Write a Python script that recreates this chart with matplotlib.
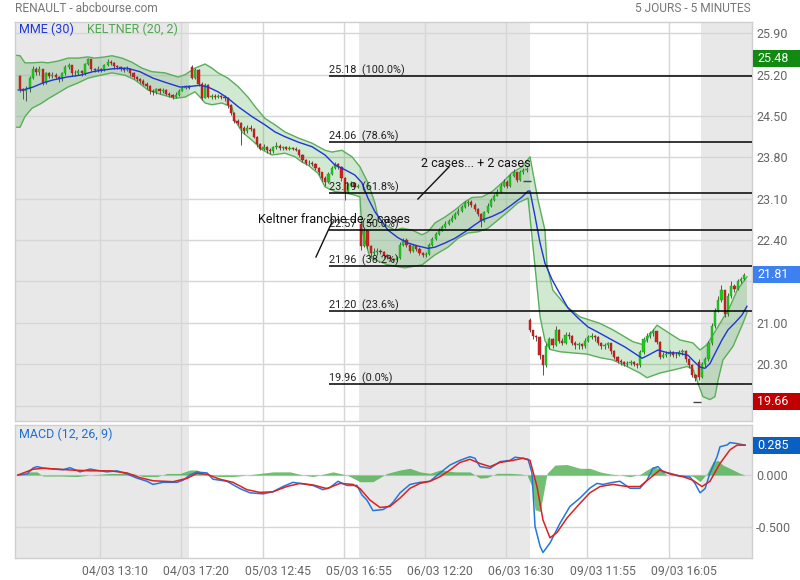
import matplotlib
matplotlib.use('Agg')
import matplotlib.pyplot as plt
import matplotlib.transforms as mtransforms
from matplotlib.patches import Rectangle
import numpy as np

plt.rcParams['font.family'] = ['Roboto', 'DejaVu Sans']

# ---------------- DATA (5-minute bars grouped by 2) ----------------
closes = [
    24.95, 24.92, 24.95, 25.15, 25.30, 25.25, 25.30, 25.06, 25.22, 25.18,
    25.20, 25.16, 25.12, 25.22, 25.33, 25.36, 25.22, 25.22, 25.26, 25.22,
    25.38, 25.46, 25.30, 25.28, 25.30, 25.28, 25.36, 25.42, 25.40, 25.34,
    25.33, 25.30, 25.28, 25.30, 25.22, 25.16, 25.13, 25.10, 25.05, 25.00,
    24.92, 24.90, 24.95, 24.92, 24.94, 24.88, 24.86, 24.82, 24.86, 24.93,
    24.98, 25.00, 24.98,
    25.15, 25.28, 25.05, 24.80, 25.02, 24.82, 24.84, 24.82, 24.84, 24.82,
    24.80, 24.68, 24.55, 24.42, 24.38, 24.30, 24.25, 24.30, 24.28, 24.15,
    24.02, 23.95, 23.98, 23.92, 23.90, 23.98, 24.00, 23.96, 23.97, 23.95,
    23.96, 23.95, 23.93, 23.84, 23.75, 23.70, 23.71, 23.69, 23.62, 23.55,
    23.45, 23.38, 23.52, 23.62, 23.68, 23.64, 23.45, 23.22, 23.32, 23.36,
    23.30, 23.32,
    22.30, 22.55, 22.30, 22.18, 22.20, 22.22, 22.20, 22.14, 22.12, 22.08,
    22.06, 22.10, 22.32, 22.40, 22.32, 22.22, 22.30, 22.25, 22.18, 22.15,
    22.17, 22.32, 22.42, 22.50, 22.56, 22.62, 22.68, 22.72, 22.78, 22.84,
    22.90, 22.96, 23.02, 23.05, 23.00, 22.93, 22.84, 22.72, 22.88, 22.98,
    23.08, 23.15, 23.22, 23.32, 23.38, 23.32, 23.48, 23.55, 23.42, 23.55,
    23.58, 23.60,
    20.88, 20.78, 20.76, 20.45, 20.28, 20.60, 20.72, 20.62, 20.88, 20.70,
    20.66, 20.80, 20.78, 20.65, 20.62, 20.64, 20.60, 20.70, 20.76, 20.78,
    20.76, 20.66, 20.60, 20.62, 20.65, 20.52, 20.42, 20.36, 20.33, 20.30,
    20.32, 20.34, 20.30, 20.28, 20.50, 20.72, 20.78, 20.82, 20.86, 20.68,
    20.42, 20.46, 20.48, 20.50, 20.46, 20.45, 20.50, 20.52, 20.38, 20.28,
    20.12, 20.06,
    20.08, 20.30, 20.38, 20.65, 20.95, 21.20, 21.38, 21.55, 21.15, 21.45,
    21.62, 21.58, 21.70, 21.74, 21.81,
]
highs = [
    25.20, 24.97, 25.00, 25.18, 25.35, 25.33, 25.34, 25.30, 25.25, 25.24,
    25.25, 25.22, 25.18, 25.25, 25.36, 25.40, 25.37, 25.28, 25.30, 25.28,
    25.40, 25.48, 25.46, 25.32, 25.34, 25.32, 25.38, 25.46, 25.45, 25.42,
    25.37, 25.35, 25.33, 25.34, 25.31, 25.24, 25.18, 25.15, 25.12, 25.07,
    25.02, 24.96, 24.98, 24.97, 24.98, 24.95, 24.91, 24.88, 24.90, 24.95,
    25.01, 25.03, 25.02,
    25.36, 25.31, 25.30, 25.08, 25.06, 25.04, 24.88, 24.87, 24.87, 24.86,
    24.85, 24.82, 24.70, 24.57, 24.45, 24.40, 24.33, 24.34, 24.35, 24.30,
    24.17, 24.04, 24.02, 24.00, 23.96, 24.00, 24.06, 24.02, 24.00, 23.99,
    24.00, 23.98, 23.97, 23.95, 23.86, 23.77, 23.75, 23.74, 23.71, 23.64,
    23.56, 23.48, 23.55, 23.66, 23.72, 23.70, 23.66, 23.47, 23.36, 23.40,
    23.38, 23.35,
    22.72, 22.60, 22.58, 22.32, 22.26, 22.27, 22.25, 22.22, 22.17, 22.14,
    22.10, 22.13, 22.36, 22.44, 22.43, 22.34, 22.33, 22.32, 22.28, 22.20,
    22.20, 22.35, 22.46, 22.53, 22.60, 22.66, 22.72, 22.76, 22.82, 22.88,
    22.95, 23.00, 23.06, 23.08, 23.07, 23.02, 22.95, 22.86, 22.90, 23.02,
    23.12, 23.18, 23.26, 23.36, 23.44, 23.42, 23.52, 23.60, 23.56, 23.58,
    23.62, 23.63,
    21.08, 20.85, 20.80, 20.78, 20.46, 20.65, 20.76, 20.75, 20.94, 20.90,
    20.74, 20.84, 20.84, 20.80, 20.70, 20.68, 20.66, 20.74, 20.80, 20.82,
    20.80, 20.78, 20.68, 20.66, 20.68, 20.66, 20.54, 20.44, 20.38, 20.35,
    20.36, 20.37, 20.36, 20.32, 20.54, 20.76, 20.82, 20.86, 20.90, 20.86,
    20.70, 20.50, 20.52, 20.54, 20.52, 20.50, 20.54, 20.56, 20.54, 20.40,
    20.30, 20.14,
    20.38, 20.34, 20.42, 20.70, 21.00, 21.25, 21.45, 21.64, 21.55, 21.50,
    21.70, 21.66, 21.74, 21.78, 21.85,
]
lows = [
    24.90, 24.78, 24.75, 24.90, 25.12, 25.20, 25.20, 25.02, 25.04, 25.14,
    25.15, 25.12, 25.08, 25.10, 25.20, 25.30, 25.18, 25.18, 25.20, 25.18,
    25.20, 25.36, 25.27, 25.24, 25.25, 25.24, 25.27, 25.34, 25.36, 25.30,
    25.29, 25.26, 25.24, 25.26, 25.18, 25.13, 25.09, 25.06, 25.02, 24.96,
    24.88, 24.86, 24.88, 24.88, 24.89, 24.85, 24.82, 24.79, 24.80, 24.84,
    24.92, 24.96, 24.95,
    25.12, 25.12, 25.00, 24.77, 24.80, 24.80, 24.78, 24.79, 24.80, 24.79,
    24.76, 24.64, 24.52, 24.38, 24.34, 24.01, 24.20, 24.22, 24.24, 24.12,
    23.98, 23.92, 23.93, 23.88, 23.86, 23.88, 23.94, 23.92, 23.93, 23.92,
    23.93, 23.92, 23.90, 23.80, 23.72, 23.67, 23.67, 23.66, 23.58, 23.50,
    23.40, 23.32, 23.36, 23.50, 23.60, 23.60, 23.40, 23.08, 23.20, 23.30,
    23.27, 23.28,
    22.24, 22.28, 22.25, 22.12, 22.14, 22.14, 22.16, 22.10, 22.08, 22.05,
    22.03, 22.04, 22.08, 22.30, 22.28, 22.18, 22.20, 22.22, 22.15, 22.12,
    22.12, 22.15, 22.30, 22.40, 22.48, 22.55, 22.60, 22.66, 22.70, 22.76,
    22.82, 22.88, 22.94, 22.98, 22.96, 22.90, 22.80, 22.62, 22.70, 22.86,
    22.96, 23.06, 23.14, 23.20, 23.30, 23.28, 23.30, 23.46, 23.38, 23.40,
    23.52, 23.56,
    20.85, 20.72, 20.70, 20.38, 20.12, 20.25, 20.55, 20.58, 20.60, 20.66,
    20.62, 20.64, 20.72, 20.62, 20.56, 20.56, 20.56, 20.58, 20.68, 20.72,
    20.70, 20.62, 20.56, 20.56, 20.58, 20.48, 20.38, 20.32, 20.28, 20.27,
    20.27, 20.29, 20.27, 20.24, 20.26, 20.48, 20.68, 20.74, 20.78, 20.64,
    20.38, 20.40, 20.42, 20.44, 20.42, 20.41, 20.44, 20.46, 20.34, 20.24,
    20.08, 20.02,
    20.04, 20.06, 20.26, 20.36, 20.62, 20.92, 21.18, 21.35, 21.10, 21.12,
    21.42, 21.52, 21.56, 21.68, 21.72,
]
# session opening gaps: candle index and open price
gap_idx = [0, 53, 105, 157, 209]
gap_open = [25.18, 25.33, 22.68, 21.05, 20.34]
# isolated ticks (bar index, price)
dash_bar = [312.7, 417.7]
dash_price = [23.40, 19.66]

session_starts = [0, 105, 210, 315, 420]

# MME (30) - blue line (bar index, price)
ema_x = [-0.5, 2.4, 8.6, 14.7, 20.9, 29.5, 37.5, 45.5, 49.8, 57.8, 66.4, 74.4, 82.5, 91.1, 99.1,
         105.2, 111.4, 116.3, 122.5, 128.6, 134.8, 143.4, 151.4, 157.6, 163.7, 171.7, 180.4, 188.4,
         194.5, 200.7, 206.8, 211.1, 214.8, 219.1, 223.5, 227.1, 233.3, 239.5, 245.6, 251.8, 256.1,
         262.2, 268.4, 274.6, 280.7, 285.0, 291.2, 297.4, 303.5, 309.7, 313.4, 314.6, 317.7, 320.8,
         323.8, 328.2, 331.8, 338.0, 344.2, 350.3, 356.5, 365.1, 373.1, 379.2, 383.6, 387.3, 393.4,
         399.6, 405.7, 411.9, 416.2, 419.3, 422.4, 425.4, 428.5, 432.8, 436.5, 440.8, 445.1, 448.2]
ema_v = [24.94, 24.94, 24.99, 25.06, 25.11, 25.16, 25.19, 25.25, 25.27, 25.30, 25.31, 25.25, 25.14,
         25.06, 24.99, 25.00, 25.02, 24.99, 24.91, 24.80, 24.66, 24.49, 24.35, 24.23, 24.15, 24.06,
         23.98, 23.84, 23.67, 23.59, 23.50, 23.37, 23.11, 22.88, 22.71, 22.57, 22.44, 22.35, 22.30,
         22.26, 22.28, 22.35, 22.43, 22.54, 22.66, 22.74, 22.80, 22.88, 23.00, 23.13, 23.23, 23.23,
         22.80, 22.35, 22.01, 21.73, 21.55, 21.25, 21.08, 20.93, 20.84, 20.71, 20.59, 20.48, 20.40,
         20.45, 20.54, 20.49, 20.49, 20.45, 20.33, 20.25, 20.23, 20.31, 20.48, 20.71, 20.88, 21.00,
         21.13, 21.28]

# KELTNER (20, 2) - upper and lower bands
kup_x = [-2.5, 0.6, 3.6, 7.9, 14.1, 17.8, 24.0, 30.1, 36.3, 42.4, 46.7, 52.9, 57.2, 63.4, 69.5,
         75.7, 81.8, 89.8, 97.9, 102.2, 108.3, 114.5, 118.8, 122.5, 128.6, 134.8, 140.9, 145.3,
         151.4, 157.6, 163.7, 171.7, 180.4, 188.4, 192.7, 198.8, 205.0, 209.9, 214.8, 219.1, 220.9,
         225.3, 231.5, 235.8, 241.9, 248.1, 251.8, 256.1, 262.2, 268.4, 274.6, 278.9, 285.0, 291.2,
         297.4, 303.5, 309.7, 314.6, 319.5, 323.8, 325.1, 328.7, 337.4, 345.4, 357.7, 365.7, 378.0,
         384.2, 388.5, 392.8, 398.9, 406.9, 414.9, 419.3, 423.6, 431.6, 437.7, 442.1, 448.2]
kup_v = [25.53, 25.52, 25.40, 25.40, 25.41, 25.40, 25.43, 25.48, 25.48, 25.50, 25.48, 25.50, 25.52,
         25.48, 25.41, 25.31, 25.25, 25.23, 25.16, 25.20, 25.31, 25.38, 25.31, 25.23, 25.14, 25.00,
         24.82, 24.66, 24.46, 24.35, 24.23, 24.13, 24.04, 23.92, 23.89, 23.92, 23.81, 23.64, 23.37,
         23.03, 22.80, 22.66, 22.57, 22.60, 22.57, 22.49, 22.54, 22.69, 22.79, 22.91, 23.05, 23.12,
         23.13, 23.22, 23.37, 23.54, 23.64, 23.81, 23.08, 22.57, 21.97, 21.55, 21.27, 21.10, 20.99,
         20.88, 20.68, 20.63, 20.80, 20.96, 20.85, 20.71, 20.66, 20.54, 20.63, 20.99, 21.27, 21.55,
         21.78]
klo_x = [-2.5, 0.6, 3.6, 7.9, 14.1, 17.8, 24.0, 30.1, 36.3, 42.4, 48.6, 57.2, 65.2, 71.4, 79.4,
         88.0, 96.0, 102.2, 108.3, 111.4, 114.5, 118.8, 124.9, 131.1, 132.9, 137.3, 143.4, 149.6,
         155.7, 163.7, 169.9, 174.2, 177.9, 184.1, 188.4, 194.5, 200.7, 206.8, 209.9, 211.1, 216.1,
         227.1, 237.6, 248.1, 256.1, 264.1, 270.3, 276.4, 282.6, 288.7, 294.9, 301.0, 307.2, 313.4,
         317.7, 320.8, 323.8, 326.9, 333.1, 341.1, 349.7, 357.7, 365.7, 374.3, 382.3, 386.6, 394.6,
         402.6, 411.3, 414.9, 418.0, 421.1, 425.4, 428.5, 430.4, 433.4, 439.6, 445.7, 448.2]
klo_v = [24.31, 24.31, 24.49, 24.63, 24.72, 24.79, 24.89, 24.99, 25.06, 25.14, 25.18, 25.23, 25.19,
         25.11, 24.94, 24.86, 24.80, 24.82, 24.91, 24.82, 24.72, 24.69, 24.72, 24.65, 24.43, 24.23,
         24.09, 23.93, 23.84, 23.87, 23.81, 23.72, 23.67, 23.53, 23.30, 23.22, 23.20, 23.16, 23.13,
         22.57, 22.10, 21.98, 21.93, 21.98, 22.15, 22.28, 22.43, 22.52, 22.54, 22.60, 22.74, 22.88,
         23.03, 23.11, 21.95, 21.10, 20.70, 20.55, 20.51, 20.49, 20.47, 20.41, 20.37, 20.26, 20.15,
         20.07, 20.15, 20.20, 20.26, 20.22, 19.98, 19.75, 19.70, 19.75, 20.03, 20.37, 20.60, 20.99,
         21.17]

# Fibonacci retracement levels
fib_levels = [25.18, 24.06, 23.19, 22.57, 21.96, 21.20, 19.96]
fib_pct = ['100.0%', '78.6%', '61.8%', '50.0%', '38.2%', '23.6%', '0.0%']

# MACD (12, 26, 9)
macd_x = [-0.7, 4.9, 8.6, 11.0, 14.7, 20.9, 27.0, 31.3, 37.5, 43.7, 49.8, 54.1, 60.3, 66.4, 72.6,
          78.8, 82.5, 88.6, 97.2, 100.9, 105.2, 109.5, 111.4, 115.7, 119.4, 128.0, 136.0, 142.2,
          150.2, 156.3, 162.5, 168.7, 174.8, 181.0, 187.1, 191.4, 196.4, 201.9, 208.1, 211.1, 214.2,
          217.9, 224.1, 228.4, 230.3, 234.6, 240.7, 246.9, 253.0, 259.2, 265.3, 271.5, 277.6, 280.7,
          283.8, 290.0, 296.1, 302.3, 305.4, 310.3, 313.4, 315.8, 317.7, 320.8, 322.6, 326.9, 333.1,
          339.2, 345.4, 351.5, 355.8, 359.5, 365.7, 370.0, 376.2, 382.3, 386.6, 390.3, 393.4, 396.5,
          400.8, 406.9, 413.1, 416.2, 419.3, 422.4, 425.4, 429.8, 431.6, 436.0, 437.7, 442.1, 447.0]
macd_v = [0.0, 0.01, 0.067, 0.08, 0.067, 0.057, 0.05, 0.07, 0.03, 0.057, 0.04, 0.03, 0.04, 0.01,
          -0.03, -0.06, -0.09, -0.07, -0.07, -0.05, 0.0, 0.03, 0.025, 0.02, -0.04, -0.06, -0.13,
          -0.17, -0.18, -0.16, -0.11, -0.07, -0.085, -0.10, -0.14, -0.12, -0.06, -0.10, -0.10, -0.19,
          -0.24, -0.34, -0.33, -0.29, -0.26, -0.17, -0.09, -0.07, -0.06, 0.02, 0.095, 0.14, 0.175,
          0.16, 0.08, 0.064, 0.127, 0.14, 0.17, 0.16, 0.15, 0.02, -0.49, -0.68, -0.74, -0.65, -0.46,
          -0.30, -0.22, -0.125, -0.08, -0.09, -0.07, -0.06, -0.127, -0.127, -0.05, 0.064, 0.08, 0.03,
          0.016, -0.01, -0.02, -0.08, -0.17, -0.13, 0.016, 0.175, 0.27, 0.287, 0.31, 0.30, 0.285]
sig_x = [-0.7, 8.6, 14.7, 23.3, 31.3, 43.7, 56.0, 66.4, 74.4, 82.5, 94.8, 103.4, 109.5, 115.7,
         123.7, 131.7, 140.3, 148.3, 156.3, 164.9, 173.0, 181.0, 189.6, 197.6, 205.6, 209.9, 216.1,
         222.2, 228.4, 234.6, 240.7, 246.9, 253.0, 259.2, 265.3, 271.5, 277.6, 283.8, 290.0, 296.1,
         304.1, 310.3, 314.6, 318.9, 322.6, 326.9, 331.2, 337.4, 345.4, 351.5, 357.7, 365.7, 374.3,
         382.3, 388.5, 394.6, 400.8, 408.8, 414.9, 420.5, 425.4, 431.6, 437.7, 442.1, 447.0]
sig_v = [0.0, 0.055, 0.064, 0.057, 0.048, 0.04, 0.04, 0.02, -0.025, -0.055, -0.064, -0.032, 0.016,
         0.006, -0.04, -0.07, -0.14, -0.166, -0.16, -0.11, -0.08, -0.095, -0.13, -0.08, -0.09, -0.13,
         -0.24, -0.31, -0.30, -0.22, -0.127, -0.08, -0.06, -0.016, 0.048, 0.12, 0.15, 0.11, 0.08,
         0.12, 0.14, 0.16, 0.14, -0.11, -0.43, -0.60, -0.55, -0.41, -0.27, -0.17, -0.11, -0.09,
         -0.11, -0.11, -0.03, 0.048, 0.01, -0.016, -0.05, -0.11, -0.06, 0.11, 0.24, 0.285, 0.285]
hist_x = [-0.7, 6.7, 11.0, 14.7, 25.2, 35.6, 43.7, 56.0, 70.1, 76.3, 84.9, 91.1, 99.1, 105.2, 109.5,
          115.7, 123.7, 131.7, 140.3, 156.3, 166.8, 174.8, 181.0, 193.3, 201.9, 209.9, 217.9, 226.5,
          234.6, 240.7, 246.9, 253.0, 259.2, 268.4, 277.6, 283.8, 288.1, 294.2, 302.3, 308.5, 312.7,
          315.8, 317.7, 320.8, 322.6, 325.1, 330.0, 337.4, 345.4, 351.5, 357.7, 363.9, 370.0, 376.2,
          382.3, 386.6, 390.3, 394.6, 398.9, 406.9, 414.9, 419.3, 423.6, 427.3, 430.4, 433.4, 437.7,
          443.9, 447.0]
hist_v = [0.0, 0.03, 0.03, -0.01, -0.01, -0.015, 0.0, 0.015, 0.015, -0.015, -0.015, 0.015, 0.015,
          0.048, 0.048, 0.0, -0.015, -0.015, 0.0, 0.03, 0.03, 0.0, -0.015, 0.03, 0.0, -0.064, -0.064,
          0.015, 0.048, 0.064, 0.03, 0.016, 0.048, 0.03, 0.03, -0.03, -0.025, 0.016, 0.016, 0.01, 0.0,
          -0.11, -0.33, -0.35, -0.2, 0.016, 0.095, 0.10, 0.064, 0.064, 0.03, 0.01, 0.0, -0.016, 0.006,
          0.048, 0.08, 0.06, 0.0, -0.01, -0.01, -0.064, 0.016, 0.127, 0.14, 0.095, 0.064, 0.016, 0.0]

tick_bars = [50, 100, 150, 200, 250, 300, 350, 400]
tick_labels = ['04/03 13:10', '04/03 17:20', '05/03 12:45', '05/03 16:55',
               '06/03 12:20', '06/03 16:30', '09/03 11:55', '09/03 16:05']
price_ticks = [25.90, 25.20, 24.50, 23.80, 23.10, 22.40, 21.70, 21.00, 20.30, 19.60]
hidden_price_labels = [21.70, 19.60]   # covered by the value boxes in the original
macd_ticks = [0.0, -0.5]

# ---------------- FIGURE ----------------
W, H = 800, 580
fig = plt.figure(figsize=(8, 5.8), dpi=100)
ax = fig.add_axes([15 / W, 1 - 421 / H, 737 / W, 399 / H])
axm = fig.add_axes([15 / W, 1 - 558 / H, 737 / W, 133 / H])

XMIN, XMAX = -2.52, 451.3
GRAY = '#e8e8e8'
GRID = '#d6d6d6'
TXT = '#666666'

for a in (ax, axm):
    a.set_xlim(XMIN, XMAX)
    a.set_facecolor('white')
    bounds = [XMIN] + [s - 0.4 for s in session_starts[1:]] + [XMAX]
    for i in range(len(bounds) - 1):
        if i % 2 == 0:
            a.axvspan(bounds[i], bounds[i + 1], color=GRAY, lw=0, zorder=0)
    a.set_xticks(tick_bars)
    a.grid(True, color=GRID, lw=1, zorder=1)
    a.set_axisbelow(True)
    for s in a.spines.values():
        s.set_color('#cfcfcf')
        s.set_linewidth(1)
    a.yaxis.tick_right()
    a.tick_params(axis='both', length=0, labelcolor=TXT, labelsize=9)
    a.tick_params(axis='y', pad=3)

ax.set_ylim(19.338, 26.091)
ax.set_yticks(price_ticks)
ax.set_yticklabels(['' if any(abs(t - h) < 1e-6 for h in hidden_price_labels) else '%.2f' % t
                    for t in price_ticks])
ax.tick_params(axis='x', labelbottom=False)

axm.set_ylim(-0.7927, 0.4776)
axm.set_yticks(macd_ticks)
axm.set_yticklabels(['%.3f' % t for t in macd_ticks])
axm.set_xticklabels(tick_labels)
axm.tick_params(axis='x', pad=5, labelsize=8.8)
shift = mtransforms.ScaledTranslation(15 / 100, 0, fig.dpi_scale_trans)
for lab in axm.get_xticklabels():
    lab.set_transform(lab.get_transform() + shift)

# ---- Keltner channel ----
poly_x = list(kup_x) + list(klo_x[::-1])
poly_y = list(kup_v) + list(klo_v[::-1])
ax.fill(poly_x, poly_y, color='#2f9a2f', alpha=0.22, lw=0, zorder=2)
ax.plot(kup_x, kup_v, color='#5aae5a', lw=1, zorder=2.2)
ax.plot(klo_x, klo_v, color='#5aae5a', lw=1, zorder=2.2)

# ---- candles ----
c = np.array(closes)
hi = np.array(highs)
lo = np.array(lows)
n = len(c)
xb = np.arange(n) * 2 + 0.5
o = np.empty(n)
o[0] = c[0]
o[1:] = c[:-1]
for i, v in zip(gap_idx, gap_open):
    o[i] = v
top = np.maximum(o, c)
bot = np.minimum(o, c)
up = c >= o
ax.vlines(xb, np.minimum(lo, bot), np.maximum(hi, top), color='#555555', lw=0.7, zorder=3)
hgt = np.maximum(top - bot, 0.012)
ax.bar(xb[up], hgt[up], bottom=bot[up], width=1.35, color='#1ec81e', edgecolor='#16a016',
       lw=0.3, zorder=4)
ax.bar(xb[~up], hgt[~up], bottom=bot[~up], width=1.35, color='#cc2222', edgecolor='#a81818',
       lw=0.3, zorder=4)
ax.plot(dash_bar, dash_price, ls='none', marker='_', ms=6, mew=1, color='#444444', zorder=4)

# ---- MME 30 ----
ax.plot(ema_x, ema_v, color='#1f35d8', lw=1.0, zorder=5)

# ---- Fibonacci ----
fib_x0 = 190.8
ax.hlines(fib_levels, fib_x0, XMAX, color='black', lw=1.1, zorder=6)
for lv, p in zip(fib_levels, fib_pct):
    ax.annotate('%.2f  (%s)' % (lv, p), (fib_x0, lv), xytext=(0, 2), textcoords='offset points',
                ha='left', va='baseline', fontsize=7.8, color='#222222', zorder=7)

# ---- annotations ----
ax.plot([182.8, 192.7], [22.114, 22.706], color='#111111', lw=1, zorder=7)
ax.text(147.1, 22.74, 'Keltner franchie de 2 cases', fontsize=9, color='#111111',
        ha='left', va='center', zorder=7)
ax.plot([245.6, 264.7], [23.095, 23.637], color='#111111', lw=1, zorder=7)
ax.text(247.5, 23.69, '2 cases... + 2 cases', fontsize=9, color='#111111',
        ha='left', va='center', zorder=7)

# ---- legends ----
ax.text(19 / W, 1 - 29 / H, 'MME (30)', transform=fig.transFigure, color='#1f35d8',
        fontsize=9, va='center', ha='left', zorder=8)
ax.text(87 / W, 1 - 29 / H, 'KELTNER (20, 2)', transform=fig.transFigure, color='#4fa84f',
        fontsize=9, va='center', ha='left', zorder=8)
axm.text(19 / W, 1 - 434 / H, 'MACD (12, 26, 9)', transform=fig.transFigure, color='#1f6fd0',
         fontsize=9, va='center', ha='left', zorder=8)

fig.text(15 / W, 1 - 9 / H, 'RENAULT - abcbourse.com', color='#777777', fontsize=8.6,
         va='center', ha='left')
fig.text(751 / W, 1 - 9 / H, '5 JOURS - 5 MINUTES', color='#777777', fontsize=8.6,
         va='center', ha='right')

# ---- value boxes on the right ----
def value_box(a, value, fmt, face, px_per_unit):
    tr = mtransforms.blended_transform_factory(fig.transFigure, a.transData)
    h = 17.0 / px_per_unit
    a.add_patch(Rectangle((753 / W, value - h / 2), 47 / W, h, transform=tr, facecolor=face,
                          edgecolor='none', clip_on=False, zorder=20))
    a.text(757 / W, value, fmt % value, transform=tr, color='white', fontsize=9,
           va='center', ha='left', zorder=21, clip_on=False)

value_box(ax, max(highs), '%.2f', '#128a12', 59.08)
value_box(ax, closes[-1], '%.2f', '#3d80f0', 59.08)
value_box(ax, min(min(lows), min(dash_price)), '%.2f', '#c00000', 59.08)

# ---- MACD panel ----
axm.fill_between(hist_x, 0, hist_v, color='#4caf50', alpha=0.8, lw=0, zorder=2)
axm.plot(macd_x, macd_v, color='#2277dd', lw=1.1, zorder=4)
axm.plot(sig_x, sig_v, color='#dd2020', lw=1.1, zorder=4)
value_box(axm, macd_v[-1], '%.3f', '#0a5fc2', 104.7)

fig.savefig('out.png', dpi=100)
